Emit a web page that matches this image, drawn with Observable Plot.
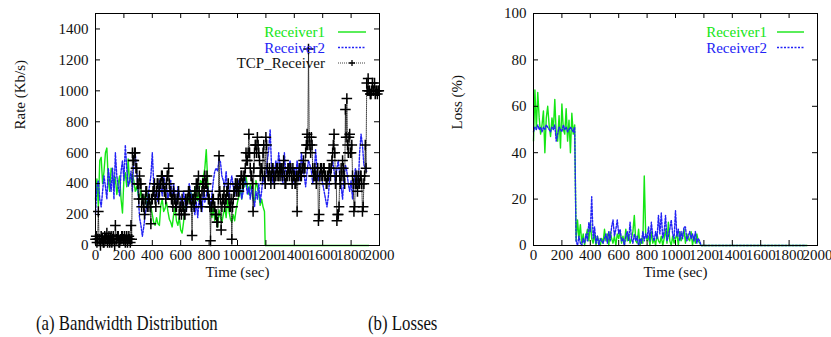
<!DOCTYPE html>
<html>
<head>
<meta charset="utf-8">
<script src="https://cdn.jsdelivr.net/npm/d3@7"></script>
<script src="https://cdn.jsdelivr.net/npm/@observablehq/plot@0.6"></script>
<style>
  body { margin: 0; background: white; }
  #wrap { position: relative; width: 831px; height: 337px; background: white; overflow: hidden; }
  #left, #right { position: absolute; top: 0; }
  #left { left: 0; }
  #right { left: 415px; }
  .cap { position: absolute; top: 310px; line-height: 26px; font-family: "Liberation Serif", serif; font-size: 21.5px; color: #111; transform: scaleX(0.78); transform-origin: left center; white-space: nowrap; }
</style>
</head>
<body>
<div id="wrap">
  <div id="left"></div>
  <div id="right"></div>
  <div class="cap" style="left:36px">(a) Bandwidth Distribution</div>
  <div class="cap" style="left:368px">(b) Losses</div>
</div>
<script>
// ---------- Data ----------
const rateStep = 10; // seconds between receiver samples
const tcpStep = 5;   // seconds between TCP samples
const lossStep = 10; // seconds between loss samples

const xTicks = [0, 200, 400, 600, 800, 1000, 1200, 1400, 1600, 1800, 2000];
const rateTicks = [0, 200, 400, 600, 800, 1000, 1200, 1400];
const lossTicks = [0, 20, 40, 60, 80, 100];

// (a) Rate, Receiver1 (t = 0..1190 step 10)
const rcv1Rate = [
  300, 430, 250, 550, 570, 400, 480, 600, 630, 420,
  350, 500, 470, 380, 440, 330, 400, 450, 300, 210,
  430, 470, 380, 560, 400, 440, 460, 420, 350, 380,
  330, 300, 360, 280, 320, 300, 260, 340, 290, 250,
  200, 150, 130, 180, 140, 130, 260, 300, 220, 240,
  280, 220, 170, 150, 120, 200, 250, 160, 130, 180,
  100, 80, 150, 240, 300, 320, 280, 350, 300, 260,
  380, 330, 290, 360, 420, 400, 450, 500, 620, 420,
  280, 230, 180, 250, 160, 200, 120, 230, 180, 150,
  200, 250, 180, 300, 220, 170, 150, 200, 160, 230,
  280, 320, 360, 300, 420, 380, 450, 380, 330, 400,
  350, 300, 280, 420, 380, 330, 260, 300, 250, 220
];
const rcv1RateTailT = [1195, 1925];
const rcv1RateTailV = [0, 0];

// (a) Rate, Receiver2 (t = 0..1910 step 10)
const rcv2Rate = [
  200, 380, 420, 300, 250, 350, 450, 380, 300, 500,
  420, 350, 500, 300, 600, 450, 380, 320, 480, 550,
  420, 650, 500, 380, 420, 480, 350, 560, 600, 480,
  350, 180, 130, 60, 120, 200, 250, 320, 380, 450,
  600, 400, 300, 350, 280, 420, 380, 320, 450, 400,
  380, 300, 350, 420, 280, 400, 320, 250, 380, 330,
  300, 250, 350, 280, 220, 320, 400, 350, 280, 250,
  200, 280, 180, 300, 250, 220, 350, 280, 320, 380,
  300, 250, 330, 420, 480, 500, 480, 560, 540, 450,
  420, 380, 480, 350, 300, 400, 450, 380, 320, 400,
  350, 420, 380, 300, 350, 450, 400, 330, 380, 300,
  380, 300, 250, 350, 300, 400, 280, 350, 450, 400,
  450, 550, 620, 750, 500, 400, 450, 550, 480, 600,
  520, 450, 400, 600, 480, 420, 500, 550, 460, 400,
  500, 450, 550, 480, 420, 600, 500, 450, 380, 480,
  550, 520, 480, 400, 450, 620, 500, 420, 480, 450,
  400, 350, 300, 250, 320, 450, 500, 550, 480, 400,
  500, 550, 450, 380, 300, 450, 520, 480, 400, 350,
  420, 300, 400, 500, 450, 380, 600, 720, 650, 520,
  500, 480
];

// (a) Rate, TCP_Receiver (t = 0..1995 step 5)
const tcpRate = [
  40, 60, 20, 40, 220, 40, 40, 0, 60, 40, 40, 20, 20, 60, 40, 40, 80, 20, 40, 60,
  20, 40, 60, 20, 40, 60, 40, 0, 130, 40, 40, 60, 60, 20, 20, 40, 40, 60, 60, 40,
  40, 60, 20, 40, 60, 20, 40, 60, 40, 20, 130, 40, 600, 550, 550, 600, 600, 500, 500, 400,
  400, 300, 450, 400, 400, 250, 300, 300, 250, 200, 300, 350, 350, 250, 250, 300, 300, 250, 140, 300,
  300, 350, 350, 400, 300, 250, 350, 400, 400, 300, 350, 400, 400, 450, 450, 400, 400, 350, 350, 300,
  400, 450, 450, 500, 400, 350, 350, 300, 300, 250, 350, 300, 300, 250, 250, 300, 300, 350, 200, 250,
  250, 200, 300, 250, 250, 200, 200, 300, 250, 300, 300, 350, 350, 300, 300, 250, 65, 300, 300, 250,
  350, 300, 400, 350, 400, 450, 350, 300, 300, 250, 350, 400, 400, 350, 450, 400, 400, 450, 350, 300,
  300, 250, 30, 250, 250, 300, 300, 250, 250, 200, 200, 150, 150, 300, 580, 350, 300, 100, 250, 300,
  300, 350, 250, 300, 300, 350, 350, 400, 300, 250, 250, 300, 40, 250, 300, 350, 350, 400, 400, 350,
  400, 350, 350, 400, 400, 450, 450, 400, 400, 450, 450, 500, 600, 550, 550, 600, 720, 600, 500, 450,
  450, 400, 220, 500, 600, 650, 650, 600, 700, 650, 600, 550, 450, 500, 500, 450, 600, 650, 450, 400,
  700, 650, 500, 450, 450, 500, 450, 400, 450, 500, 500, 450, 400, 450, 450, 500, 500, 450, 450, 500,
  450, 500, 500, 450, 500, 550, 450, 400, 400, 450, 450, 500, 500, 450, 500, 500, 450, 400, 500, 450,
  450, 400, 400, 450, 220, 450, 450, 500, 500, 450, 450, 500, 500, 550, 500, 500, 600, 650, 720, 650,
  1270, 700, 650, 600, 700, 650, 500, 450, 450, 500, 450, 400, 450, 500, 160, 200, 450, 500, 500, 450,
  450, 500, 500, 450, 450, 400, 400, 450, 450, 500, 500, 450, 500, 550, 600, 650, 720, 600, 400, 450,
  160, 200, 200, 250, 450, 400, 500, 450, 550, 500, 450, 400, 880, 700, 950, 650, 600, 700, 720, 600,
  600, 650, 450, 400, 220, 250, 400, 450, 400, 350, 450, 400, 400, 450, 450, 400, 220, 250, 400, 450,
  650, 500, 1050, 1000, 1080, 1000, 1000, 980, 980, 1000, 1050, 1000, 1000, 1050, 980, 1000, 1000, 980, 1000, 1000
];

// (b) Loss, Receiver1 (t = 0..1190 step 10)
const rcv1Loss = [
  45, 67, 50, 66, 55, 48, 52, 58, 40, 55,
  60, 52, 47, 55, 50, 63, 48, 45, 56, 42,
  61, 50, 48, 59, 45, 54, 40, 57, 48, 52,
  2, 11, 3, 9, 1, 5, 0, 4, 7, 2,
  10, 3, 1, 5, 0, 4, 2, 0, 3, 1,
  7, 2, 5, 0, 6, 3, 1, 4, 0, 5,
  3, 6, 1, 4, 0, 7, 2, 5, 1, 3,
  6, 13, 2, 1, 7, 0, 3, 1, 30, 5,
  2, 4, 0, 6, 1, 3, 0, 5, 2, 1,
  4, 0, 3, 7, 1, 10, 2, 0, 4, 1,
  3, 5, 0, 6, 2, 4, 7, 1, 5, 3,
  2, 6, 0, 4, 1, 5, 2, 1, 0, 0
];
const rcv1LossTailT = [1200, 1927];
const rcv1LossTailV = [0, 0];

// (b) Loss, Receiver2 (t = 0..1190 step 10)
const rcv2Loss = [
  49, 51, 50, 52, 50, 51, 49, 51, 50, 52,
  51, 50, 49, 51, 50, 52, 45, 48, 51, 50,
  49, 52, 50, 51, 49, 50, 51, 50, 49, 51,
  2, 0, 4, 1, 0, 3, 1, 5, 2, 10,
  6, 21, 3, 8, 1, 4, 0, 3, 2, 1,
  3, 5, 1, 6, 2, 8, 11, 4, 7, 11,
  5, 7, 2, 3, 0, 4, 6, 2, 10, 3,
  1, 5, 2, 4, 0, 3, 1, 6, 2, 5,
  3, 8, 2, 10, 4, 2, 6, 3, 13, 5,
  14, 3, 6, 13, 2, 4, 7, 11, 5, 3,
  15, 4, 7, 2, 6, 3, 8, 8, 2, 4,
  6, 3, 5, 2, 6, 1, 3, 2, 0, 0
];
const rcv2LossTailT = [1200, 1920];
const rcv2LossTailV = [0, 0];

// ---------- Build tables ----------
const series = (vals, step, tailT = [], tailV = []) =>
  vals.map((v, i) => ({t: i * step, v}))
      .concat(tailT.map((t, i) => ({t, v: tailV[i]})));

const r1RateData = series(rcv1Rate, rateStep, rcv1RateTailT, rcv1RateTailV);
const r2RateData = series(rcv2Rate, rateStep);
const tcpData = series(tcpRate, tcpStep);
const r1LossData = series(rcv1Loss, lossStep, rcv1LossTailT, rcv1LossTailV);
const r2LossData = series(rcv2Loss, lossStep, rcv2LossTailT, rcv2LossTailV);

// ---------- Styles ----------
const GREEN = "#14e614";
const BLUE = "#2222f5";
const FONT = "Liberation Serif, Times New Roman, serif";
const H = 290, innerH = 232, innerW = 284;

function frameMarks(yTicks, ylabel, labelDx) {
  return [
    Plot.frame({stroke: "black", strokeWidth: 1}),
    Plot.tickX(xTicks, {x: d => d, insetTop: innerH - 5, stroke: "black"}),
    Plot.tickX(xTicks, {x: d => d, insetBottom: innerH - 5, stroke: "black"}),
    Plot.tickY(yTicks, {y: d => d, insetRight: innerW - 5, stroke: "black"}),
    Plot.tickY(yTicks, {y: d => d, insetLeft: innerW - 5, stroke: "black"}),
    Plot.axisX({ticks: xTicks, tickSize: 0, tickPadding: 4, label: null, tickFormat: d => String(d), fill: "#111"}),
    Plot.axisY({ticks: yTicks, tickSize: 0, tickPadding: 7, label: null, tickFormat: d => String(d), fill: "#111"}),
    Plot.text(["Time (sec)"], {text: d => d, frameAnchor: "bottom", dy: 31, fill: "#111"}),
    Plot.text([ylabel], {text: d => d, frameAnchor: "left", dx: labelDx, rotate: -90, fill: "#111"})
  ];
}

const leftPlot = Plot.plot({
  width: 415, height: H,
  marginLeft: 95, marginRight: 36, marginTop: 13, marginBottom: 45,
  x: {domain: [0, 2000]},
  y: {domain: [0, 1500]},
  style: {fontFamily: FONT, fontSize: "15px", background: "white", color: "#111"},
  marks: [
    Plot.line(r1RateData, {x: "t", y: "v", stroke: GREEN, strokeWidth: 1.4}),
    Plot.line(r2RateData, {x: "t", y: "v", stroke: BLUE, strokeWidth: 1.4, strokeDasharray: "2,1.5"}),
    Plot.line(tcpData, {x: "t", y: "v", stroke: "#111", strokeWidth: 0.8, strokeDasharray: "1,1"}),
    Plot.dot(tcpData, {x: "t", y: "v", symbol: "plus", r: 3.5, stroke: "#000", strokeWidth: 1.5}),
    ...frameMarks(rateTicks, "Rate (Kb/s)", -75)
  ]
});

const rightPlot = Plot.plot({
  width: 416, height: H,
  marginLeft: 118, marginRight: 14, marginTop: 13, marginBottom: 45,
  x: {domain: [0, 2000]},
  y: {domain: [0, 100]},
  style: {fontFamily: FONT, fontSize: "15px", background: "white", color: "#111"},
  marks: [
    Plot.line(r1LossData, {x: "t", y: "v", stroke: GREEN, strokeWidth: 1.4}),
    Plot.line(r2LossData, {x: "t", y: "v", stroke: BLUE, strokeWidth: 1.4, strokeDasharray: "2,1.5"}),
    ...frameMarks(lossTicks, "Loss (%)", -76)
  ]
});

document.getElementById("left").appendChild(leftPlot);
document.getElementById("right").appendChild(rightPlot);

// ---------- Legends (gnuplot style, inside top-right) ----------
const legendNames = ["Receiver1", "Receiver2", "TCP_Receiver"];
const legendColors = [GREEN, BLUE, "#111"];
const legendDash = [null, "2,1.5", "1,1"];

function addLegend(svgNode, n, textEnd, x1, x2, y0) {
  const g = d3.select(svgNode).append("g").attr("font-family", FONT).attr("font-size", 15);
  for (let i = 0; i < n; i++) {
    const y = y0 + i * 15.5;
    g.append("text").attr("x", textEnd).attr("y", y).attr("dy", "0.35em")
      .attr("text-anchor", "end").attr("fill", legendColors[i]).text(legendNames[i]);
    g.append("line").attr("x1", x1).attr("x2", x2).attr("y1", y).attr("y2", y)
      .attr("stroke", legendColors[i]).attr("stroke-width", i === 2 ? 0.8 : 1.4)
      .attr("stroke-dasharray", legendDash[i]);
    if (i === 2) {
      const cx = (x1 + x2) / 2;
      g.append("path").attr("d", `M${cx - 3},${y}H${cx + 3}M${cx},${y - 3}V${y + 3}`)
        .attr("stroke", "#000").attr("stroke-width", 1.3);
    }
  }
}
addLegend(leftPlot, 3, 325, 338, 366, 32);
addLegend(rightPlot, 2, 352, 362, 389, 32);
</script>
</body>
</html>
